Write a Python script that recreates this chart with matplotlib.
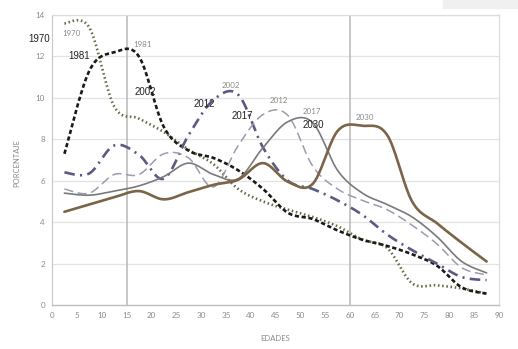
import numpy as np
import matplotlib
matplotlib.use("Agg")
import matplotlib.pyplot as plt
from matplotlib.patches import Rectangle

# edades (marcas de clase de grupos quinquenales)
edades = [2.5, 7.5, 12.5, 17.5, 22.5, 27.5, 32.5, 37.5, 42.5,
          47.5, 52.5, 57.5, 62.5, 67.5, 72.5, 77.5, 82.5, 87.5]

p1970 = [13.6, 13.4, 9.6, 9.0, 8.35, 7.5, 6.8, 5.6, 5.0,
         4.6, 4.25, 3.8, 3.15, 2.75, 1.05, 0.95, 0.8, 0.55]
p1981 = [7.3, 11.3, 12.2, 12.0, 8.6, 7.45, 7.1, 6.5, 5.6,
         4.45, 4.15, 3.6, 3.15, 2.85, 2.45, 1.9, 0.85, 0.55]
p2002 = [6.4, 6.35, 7.7, 7.25, 6.1, 8.2, 9.9, 10.15, 7.6,
         6.0, 5.6, 5.05, 4.35, 3.4, 2.65, 2.0, 1.35, 1.2]
p2012 = [5.6, 5.4, 6.3, 6.3, 7.3, 7.1, 5.7, 7.7, 9.2,
         9.15, 6.7, 5.6, 5.05, 4.6, 3.85, 2.95, 1.8, 1.45]
p2017 = [5.4, 5.3, 5.5, 5.75, 6.2, 6.85, 6.3, 6.1, 7.6,
         8.85, 8.8, 6.5, 5.4, 4.85, 4.25, 3.3, 2.1, 1.55]
p2030 = [4.5, 4.85, 5.2, 5.5, 5.1, 5.45, 5.8, 6.05, 6.85,
         5.95, 5.85, 8.4, 8.65, 8.2, 5.0, 3.95, 3.0, 2.1]

series = [
    ("1970", p1970, dict(color="#6e6c46", lw=1.9, ls=(0, (0.6, 1.0)))),
    ("1981", p1981, dict(color="#1a1a1a", lw=1.9, ls=(0, (1.6, 1.0)))),
    ("2002", p2002, dict(color="#5b5a85", lw=1.9, ls=(0, (4, 2, 0.8, 2)))),
    ("2012", p2012, dict(color="#9b9bb2", lw=1.1, ls=(0, (6, 3)))),
    ("2017", p2017, dict(color="#7a7a7a", lw=1.2, ls="-")),
    ("2030", p2030, dict(color="#7b6448", lw=1.9, ls="-")),
]

# etiquetas: (texto, x, y)
etiq_negras = [("1970", -2.6, 12.85), ("1981", 5.4, 12.0), ("2002", 18.8, 10.3),
               ("2012", 30.6, 9.7), ("2017", 38.3, 9.13), ("2030", 52.6, 8.7)]
etiq_grises = [("1970", 4.0, 13.1), ("1981", 18.3, 12.6), ("2002", 36.1, 10.6),
               ("2012", 45.6, 9.86), ("2017", 52.4, 9.33), ("2030", 63.1, 9.04)]


def suavizar(x, y, n=30):
    # curva suavizada tipo Excel (bezier con tangentes catmull-rom)
    x = np.asarray(x, float)
    y = np.asarray(y, float)
    px = np.concatenate([[x[0]], x, [x[-1]]])
    py = np.concatenate([[y[0]], y, [y[-1]]])
    xs, ys = [], []
    t = np.linspace(0, 1, n)
    for i in range(1, len(px) - 2):
        p0 = np.array([px[i], py[i]])
        p3 = np.array([px[i + 1], py[i + 1]])
        c1 = p0 + (p3 - np.array([px[i - 1], py[i - 1]])) / 6
        c2 = p3 - (np.array([px[i + 2], py[i + 2]]) - p0) / 6
        b = ((1 - t) ** 3)[:, None] * p0 + (3 * (1 - t) ** 2 * t)[:, None] * c1 \
            + (3 * (1 - t) * t ** 2)[:, None] * c2 + (t ** 3)[:, None] * p3
        xs.append(b[:, 0])
        ys.append(b[:, 1])
    return np.concatenate(xs), np.concatenate(ys)


fig = plt.figure(figsize=(5.18, 3.49), dpi=100)
ax = fig.add_axes([52 / 518, 44 / 349, 447 / 518, 290 / 349])

for y in range(2, 16, 2):
    ax.axhline(y, color="#e3e3e3", lw=0.9, zorder=0)
for x in (15, 60):
    ax.axvline(x, color="#b8b8b8", lw=1.1, zorder=0)

for nombre, vals, st in series:
    sx, sy = suavizar(edades, vals)
    ax.plot(sx, sy, color=st["color"], lw=st["lw"], linestyle=st["ls"],
            solid_capstyle="round", zorder=3)

for txt, x, y in etiq_negras:
    ax.text(x, y, txt, fontsize=7, color="#222222", family="Liberation Sans",
            ha="center", va="center", clip_on=False, zorder=5)
for txt, x, y in etiq_grises:
    ax.text(x, y, txt, fontsize=5.7, color="#8a8a8a", family="Lato",
            ha="center", va="center", zorder=5)

ax.set_xlim(0, 90)
ax.set_ylim(0, 14)
ax.set_xticks(range(0, 91, 5))
ax.set_yticks(range(0, 15, 2))
ax.tick_params(length=0, labelsize=5.8, labelcolor="#8a8a8a", pad=5)
for lab in ax.get_xticklabels() + ax.get_yticklabels():
    lab.set_family("Lato")

for s in ("top", "right"):
    ax.spines[s].set_color("#dddddd")
    ax.spines[s].set_linewidth(0.9)
ax.spines["left"].set_color("#c8c8c8")
ax.spines["bottom"].set_color("#bdbdbd")
ax.spines["bottom"].set_linestyle((0, (2, 1)))
ax.spines["bottom"].set_linewidth(1.0)

ax.set_xlabel("EDADES", fontsize=5.5, color="#8a8a8a", family="Lato")
ax.set_ylabel("PORCENTAJE", fontsize=5.5, color="#8a8a8a", family="Lato")
ax.xaxis.set_label_coords(0.499, -0.103)
ax.yaxis.set_label_coords(-0.072, 0.49)

fig.patches.append(Rectangle((443 / 518, 1 - 8 / 349), 75 / 518, 8 / 349,
                             transform=fig.transFigure, color="#f0f0f0", zorder=0))

fig.savefig("out.png", dpi=100)
